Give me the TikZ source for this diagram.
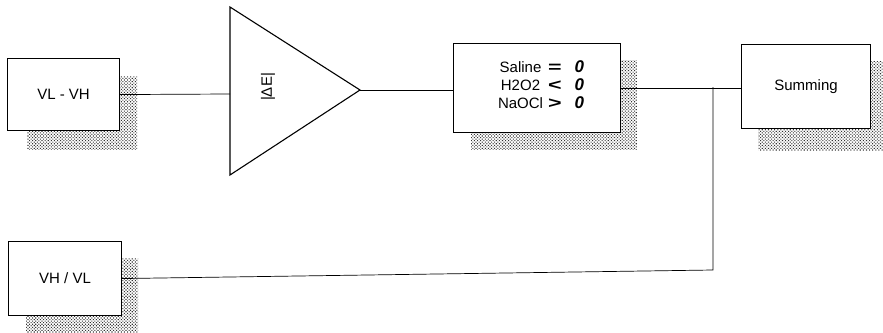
\documentclass[tikz,border=0pt]{standalone}
\usepackage{fontspec}
\usepackage{graphicx}
\setmainfont{Liberation Sans}
\usetikzlibrary{patterns.meta}
\newcommand{\mysym}[1]{\scalebox{1.45}[1]{\fontsize{16}{18}\selectfont\bfseries #1}}
\newcommand{\myzero}{{\fontsize{17}{18}\selectfont\bfseries\itshape 0}}
\begin{document}
\begin{tikzpicture}[x=1pt,y=-1pt,
  box/.style={draw,line width=1.1pt,fill=white,inner sep=0pt},
  shadow/.style={pattern={Dots[distance=2.2pt,radius=0.75pt,angle=45]},pattern color=black!80,draw=none},
  wire/.style={line width=0.7pt},
  lbl/.style={font=\fontsize{15}{18}\selectfont}]
\useasboundingbox (0,0) rectangle (883,332);
% shadows
\fill[shadow] (27,76) rectangle (137,149);
\fill[shadow] (471,60) rectangle (637,149);
\fill[shadow] (758,61) rectangle (883,150);
\fill[shadow] (26,258) rectangle (138,332);
% boxes
\node[box,lbl,minimum width=112pt,minimum height=72pt,anchor=north west] (A) at (7,58) {VL - VH};
\node[box,minimum width=167pt,minimum height=89pt,anchor=north west] (B) at (453,43) {};
\node[box,lbl,minimum width=129pt,minimum height=84pt,anchor=north west] (C) at (741,44) {Summing};
\node[box,lbl,minimum width=113pt,minimum height=74pt,anchor=north west] (D) at (8,241) {VH / VL};
% amplifier triangle
\draw[line width=1.1pt,fill=white] (230,7) -- (360,90) -- (230,175) -- cycle;
\coordinate (Tin) at (230,94);
\coordinate (Tout) at (360,90);
\node[lbl,rotate=90] (Tl) at (268,87) {|ΔE|};
% text in box B
\node[lbl,inner sep=0pt] (Bt) at (541,87) {\begin{tabular}{@{}c@{\hspace{5pt}}c@{\hspace{13pt}}c@{}}
Saline & \mysym{=} & \myzero\\
H2O2 & \mysym{<} & \myzero\\
NaOCl & \mysym{>} & \myzero
\end{tabular}};
% connectors
\coordinate (J) at (713,87);
\coordinate (K) at (713,270);
\draw[wire] (A.east) -- (Tin);
\draw[wire] (Tout) -- (Tout -| B.west);
\draw[wire] (B.east) -- (B.east -| C.west);
\draw[wire] (D.east) -- (K) -- (J);
\end{tikzpicture}
\end{document}
